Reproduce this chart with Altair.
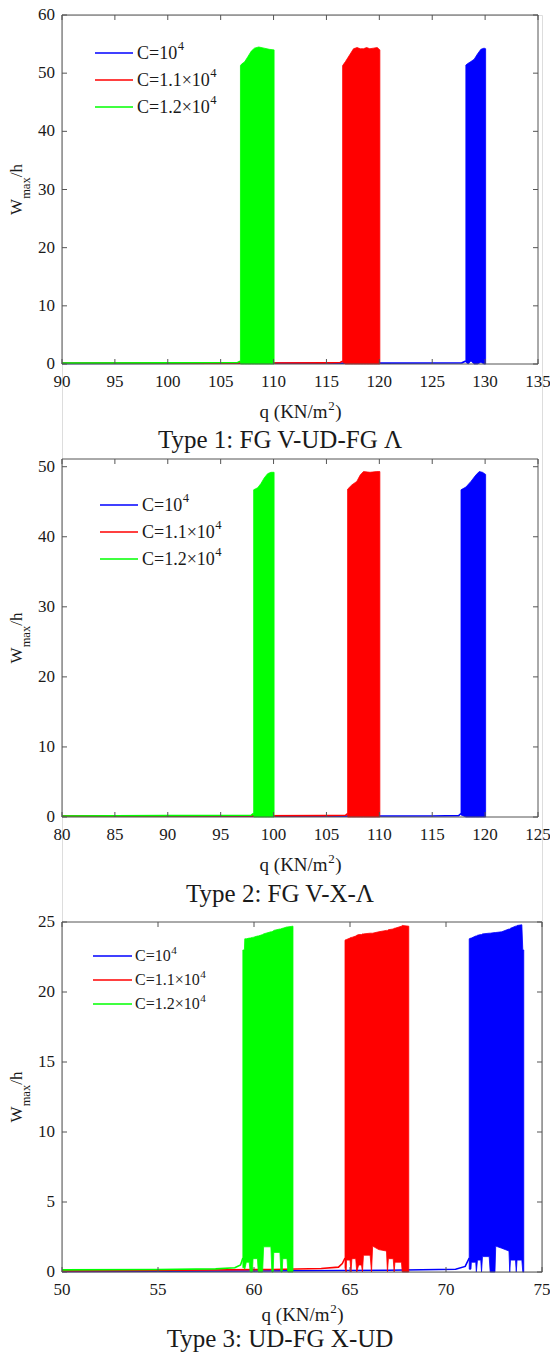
import altair as alt
import pandas as pd

FONT = "Liberation Serif"
TXT = "#1a1a1a"
AX = "#555555"

SERIES_LABELS = ["C=10", "C=1.1\u00d710", "C=1.2\u00d710"]
SERIES_COLORS = ["#0000ff", "#ff0000", "#00ff00"]

# ---------------- Panel 1 : Type 1 ----------------
p1_xticks = [90, 95, 100, 105, 110, 115, 120, 125, 130, 135]
p1_yticks = [0, 10, 20, 30, 40, 50, 60]

p1_blue_base_q = [90, 105, 120, 127.8, 128.18]
p1_blue_base_w = [0.1, 0.12, 0.15, 0.2, 0.5]
p1_blue_band_q = [128.18, 128.4, 128.66, 128.97, 129.28, 129.6, 129.9, 130.05]
p1_blue_band_top = [51.4, 51.7, 52.0, 52.4, 53.3, 54.1, 54.3, 54.2]
p1_blue_band_low = [0.3, 0.0, 0.5, 0.0, 0.0, 0.3, 0.0, 0.0]

p1_red_base_q = [90, 105, 115, 116.3, 116.53]
p1_red_base_w = [0.12, 0.15, 0.2, 0.25, 0.5]
p1_red_band_q = [116.53, 116.8, 117.25, 117.56, 117.9, 118.2, 118.5, 118.8, 119.1, 119.45, 119.8, 120.05]
p1_red_band_top = [51.3, 52.0, 53.3, 54.2, 54.4, 54.2, 54.2, 54.4, 54.2, 54.3, 54.4, 54.0]
p1_red_band_low = [0.3, 0.0, 0.0, 0.0, 0.0, 0.0, 0.0, 0.0, 0.0, 0.0, 0.0, 0.0]

p1_green_base_q = [90, 100, 106.6, 106.87]
p1_green_base_w = [0.15, 0.2, 0.25, 0.5]
p1_green_band_q = [106.87, 107.0, 107.25, 107.56, 107.9, 108.2, 108.6, 109.1, 109.6, 110.05]
p1_green_band_top = [51.3, 51.6, 51.9, 52.8, 53.8, 54.3, 54.5, 54.3, 54.1, 54.0]
p1_green_band_low = [0.0, 0.0, 0.0, 0.0, 0.0, 0.0, 0.0, 0.0, 0.0, 0.0]

# ---------------- Panel 2 : Type 2 ----------------
p2_xticks = [80, 85, 90, 95, 100, 105, 110, 115, 120, 125]
p2_yticks = [0, 10, 20, 30, 40, 50]

p2_blue_base_q = [80, 100, 115, 117.5, 117.72]
p2_blue_base_w = [0.1, 0.12, 0.15, 0.2, 0.5]
p2_blue_band_q = [117.72, 118.19, 118.66, 119.12, 119.44, 119.75, 120.05]
p2_blue_band_top = [46.7, 47.1, 47.9, 48.8, 49.3, 49.2, 48.9]
p2_blue_band_low = [0.3, 0.0, 0.0, 0.0, 0.0, 0.0, 0.0]

p2_red_base_q = [80, 95, 105, 106.8, 107.0]
p2_red_base_w = [0.12, 0.15, 0.2, 0.25, 0.5]
p2_red_band_q = [107.0, 107.4, 107.87, 108.19, 108.5, 109.12, 109.75, 110.05]
p2_red_band_top = [46.8, 47.4, 47.9, 48.8, 49.3, 49.2, 49.3, 49.3]
p2_red_band_low = [0.0, 0.0, 0.0, 0.0, 0.0, 0.0, 0.0, 0.0]

p2_green_base_q = [80, 90, 97.9, 98.12]
p2_green_base_w = [0.15, 0.2, 0.25, 0.5]
p2_green_band_q = [98.12, 98.5, 98.81, 99.12, 99.44, 99.75, 100.05]
p2_green_band_top = [46.7, 47.0, 47.6, 48.4, 49.0, 49.2, 49.2]
p2_green_band_low = [0.0, 0.0, 0.0, 0.0, 0.0, 0.0, 0.0]

# ---------------- Panel 3 : Type 3 ----------------
p3_xticks = [50, 55, 60, 65, 70, 75]
p3_yticks = [0, 5, 10, 15, 20, 25]

p3_blue_base_q = [50, 60, 67, 70.5, 71.0, 71.21]
p3_blue_base_w = [0.04, 0.07, 0.12, 0.2, 0.4, 1.0]
p3_blue_band_q = [71.21, 71.30, 71.32, 71.55, 71.58, 71.64, 71.81, 71.85, 71.90, 72.25, 72.30, 72.55,
                  72.59, 72.90, 73.28, 73.32, 73.36, 73.62, 73.66, 73.70, 73.95, 74.00, 74.05]
p3_blue_band_top = [23.8, 23.85, 23.85, 24.0, 24.0, 24.05, 24.1, 24.1, 24.15, 24.2, 24.2, 24.25,
                    24.25, 24.3, 24.5, 24.5, 24.55, 24.7, 24.7, 24.75, 24.8, 23.0, 23.0]
p3_blue_band_low = [0.2, 0.2, 0.7, 0.7, 0.0, 0.85, 0.85, 0.0, 1.1, 1.1, 0.0, 0.0,
                    1.85, 1.7, 1.5, 0.0, 0.85, 0.85, 0.0, 0.85, 0.85, 0.0, 0.0]

p3_red_base_q = [50, 56, 61, 63.5, 64.4, 64.6, 64.74]
p3_red_base_w = [0.08, 0.12, 0.18, 0.25, 0.35, 0.6, 1.0]
p3_red_band_q = [64.74, 64.80, 64.82, 65.0, 65.05, 65.10, 65.30, 65.35, 65.45, 65.60, 65.65, 65.70, 66.05,
                 66.12, 66.18, 66.50, 66.90, 66.95, 67.00, 67.25, 67.30, 67.34, 67.68, 67.72, 68.06]
p3_red_band_top = [23.7, 23.75, 23.75, 23.85, 23.9, 23.9, 24.0, 24.05, 24.1, 24.1, 24.15, 24.15, 24.2,
                   24.2, 24.2, 24.3, 24.4, 24.4, 24.45, 24.5, 24.55, 24.55, 24.7, 24.75, 24.7]
p3_red_band_low = [0.3, 0.0, 0.85, 0.85, 0.0, 0.95, 0.95, 0.0, 0.5, 0.5, 0.0, 1.2, 1.2,
                   0.0, 1.85, 1.6, 1.5, 0.0, 0.95, 0.95, 0.0, 0.7, 0.7, 0.0, 0.0]

p3_green_base_q = [50, 55, 58, 59.0, 59.3, 59.42]
p3_green_base_w = [0.15, 0.18, 0.22, 0.3, 0.5, 1.0]
p3_green_band_q = [59.42, 59.50, 59.52, 59.60, 59.75, 59.80, 59.92, 59.95, 60.18, 60.22, 60.45, 60.50,
                   60.88, 60.93, 61.00, 61.03, 61.35, 61.40, 61.47, 61.50, 61.72, 61.76, 62.03]
p3_green_band_top = [23.0, 23.0, 23.8, 23.8, 23.85, 23.85, 23.9, 23.9, 24.0, 24.0, 24.1, 24.15,
                     24.3, 24.3, 24.35, 24.4, 24.5, 24.5, 24.55, 24.55, 24.65, 24.65, 24.7]
p3_green_band_low = [0.3, 0.3, 0.2, 0.7, 0.7, 0.0, 0.0, 0.95, 0.95, 0.0, 0.0, 1.8,
                     1.8, 0.0, 0.0, 1.4, 1.4, 0.0, 0.0, 0.95, 0.95, 0.0, 0.0]

X_TITLE_PARTS = ["q (KN/m", "2", ")"]
CAPTIONS = ["Type 1: FG V-UD-FG \u039b", "Type 2: FG V-X-\u039b", "Type 3: UD-FG X-UD"]

ONE = pd.DataFrame({"k": [0]})

# approximate Times advance widths (em) for placing raised / lowered pieces
ADV = {"C": 0.667, "=": 0.564, "1": 0.5, "0": 0.5, ".": 0.25, "2": 0.5, "\u00d7": 0.564,
       "q": 0.5, " ": 0.25, "(": 0.333, ")": 0.333, "K": 0.722, "N": 0.722, "/": 0.278, "m": 0.778}


def tw(s, size):
    return sum(ADV.get(ch, 0.5) for ch in s) * size


def txt(text, x, y, size, align="left", baseline="alphabetic", angle=0, color=TXT):
    kw = dict(text=text, font=FONT, fontSize=size, align=align, baseline=baseline, color=color)
    if angle:
        kw["angle"] = angle
    return alt.Chart(ONE).mark_text(**kw).encode(x=alt.value(x), y=alt.value(y))


def panel_layers(spec):
    W, top, bot = spec["w"], spec["top"], spec["bot"]
    xs = alt.Scale(domain=spec["xdom"], range=[0, W], nice=False, zero=False)
    ys = alt.Scale(domain=spec["ydom"], range=[bot, top], nice=False, zero=False)
    X = lambda f: alt.X(f, scale=xs, axis=None)
    Y = lambda f: alt.Y(f, scale=ys, axis=None)
    layers = []
    for color, bq, bw, aq, at, al in spec["series"]:
        dfb = pd.DataFrame({"q": bq, "w": bw})
        layers.append(alt.Chart(dfb).mark_line(color=color, strokeWidth=1.6).encode(
            x=X("q:Q"), y=Y("w:Q")))
        dfa = pd.DataFrame({"q": aq, "top": at, "low": al})
        layers.append(alt.Chart(dfa).mark_area(color=color, opacity=1, stroke=color, strokeWidth=0.8).encode(
            x=X("q:Q"), y=Y("top:Q"), y2="low:Q"))
    # frame
    layers.append(alt.Chart(ONE).mark_rect(fillOpacity=0, stroke=AX, strokeWidth=1).encode(
        x=alt.value(0), x2=alt.value(W), y=alt.value(top), y2=alt.value(bot)))
    # inward ticks
    dfx = pd.DataFrame({"t": spec["xticks"]})
    dfy = pd.DataFrame({"t": spec["yticks"]})
    layers.append(alt.Chart(dfx).mark_rule(color=AX, strokeWidth=1).encode(
        x=X("t:Q"), y=alt.value(bot), y2=alt.value(bot - 5)))
    layers.append(alt.Chart(dfx).mark_rule(color=AX, strokeWidth=1).encode(
        x=X("t:Q"), y=alt.value(top), y2=alt.value(top + 5)))
    layers.append(alt.Chart(dfy).mark_rule(color=AX, strokeWidth=1).encode(
        y=Y("t:Q"), x=alt.value(0), x2=alt.value(5)))
    layers.append(alt.Chart(dfy).mark_rule(color=AX, strokeWidth=1).encode(
        y=Y("t:Q"), x=alt.value(W), x2=alt.value(W - 5)))
    # tick labels
    layers.append(alt.Chart(dfx).mark_text(font=FONT, fontSize=17, color=TXT, align="center",
                                           baseline="middle").encode(
        x=X("t:Q"), y=alt.value(bot + 18), text="t:Q"))
    layers.append(alt.Chart(dfy).mark_text(font=FONT, fontSize=17, color=TXT, align="right",
                                           baseline="middle").encode(
        y=Y("t:Q"), x=alt.value(-7), text="t:Q"))
    # legend
    lx0, lx1, tx, lys, fs = spec["legend"]
    for lab, col, ly in zip(SERIES_LABELS, SERIES_COLORS, lys):
        yy = top + ly
        layers.append(alt.Chart(ONE).mark_rule(color=col, strokeWidth=1.6).encode(
            x=alt.value(lx0), x2=alt.value(lx1), y=alt.value(yy)))
        layers.append(txt(lab, tx, yy + fs * 0.33, fs))
        layers.append(txt("4", tx + tw(lab, fs) + 0.5, yy - fs * 0.15, fs * 0.7))
    # y title  W_max/h (rotated)
    cy = (top + bot) / 2
    wx = -40
    s1, s2 = 17, 12.5
    L = 0.944 * s1 + 1.722 * s2 + 0.778 * s1
    y0 = cy + L / 2
    layers.append(txt("W", wx, y0, s1, angle=270))
    layers.append(txt("max", wx + 8, y0 - 0.944 * s1, s2, angle=270))
    layers.append(txt("/h", wx, y0 - 0.944 * s1 - 1.722 * s2, s1, angle=270))
    # x title q (KN/m^2) with raised 2
    f1, f2 = 19, 13
    tot = tw(X_TITLE_PARTS[0], f1) + tw("2", f2) + tw(")", f1)
    xt0 = W / 2 - tot / 2
    yb = bot + spec["xt_dy"]
    layers.append(txt(X_TITLE_PARTS[0], xt0, yb, f1))
    layers.append(txt(X_TITLE_PARTS[1], xt0 + tw(X_TITLE_PARTS[0], f1) + 0.5, yb - 8, f2))
    layers.append(txt(X_TITLE_PARTS[2], xt0 + tw(X_TITLE_PARTS[0], f1) + tw("2", f2) + 1, yb, f1))
    # caption (centred on the page)
    layers.append(txt(spec["caption"], 218, bot + spec["cap_dy"], 25, align="center", baseline="middle"))
    return layers


# panel placement inside the single view (pixels from the top of the first plot box)
spec1 = dict(w=476, top=0, bot=349, xdom=[90, 135], ydom=[0, 60], xticks=p1_xticks, yticks=p1_yticks,
             caption=CAPTIONS[0], cap_dy=76, xt_dy=54, legend=(33, 71, 75, [38, 65, 92], 18),
             series=[(SERIES_COLORS[0], p1_blue_base_q, p1_blue_base_w, p1_blue_band_q, p1_blue_band_top, p1_blue_band_low),
                     (SERIES_COLORS[1], p1_red_base_q, p1_red_base_w, p1_red_band_q, p1_red_band_top, p1_red_band_low),
                     (SERIES_COLORS[2], p1_green_base_q, p1_green_base_w, p1_green_band_q, p1_green_band_top, p1_green_band_low)])
spec2 = dict(w=476, top=444, bot=802, xdom=[80, 125], ydom=[0, 51.1], xticks=p2_xticks, yticks=p2_yticks,
             caption=CAPTIONS[1], cap_dy=77, xt_dy=54, legend=(38, 76, 80, [46, 73, 100], 18),
             series=[(SERIES_COLORS[0], p2_blue_base_q, p2_blue_base_w, p2_blue_band_q, p2_blue_band_top, p2_blue_band_low),
                     (SERIES_COLORS[1], p2_red_base_q, p2_red_base_w, p2_red_band_q, p2_red_band_top, p2_red_band_low),
                     (SERIES_COLORS[2], p2_green_base_q, p2_green_base_w, p2_green_band_q, p2_green_band_top, p2_green_band_low)])
spec3 = dict(w=480, top=907, bot=1257, xdom=[50, 75], ydom=[0, 25], xticks=p3_xticks, yticks=p3_yticks,
             caption=CAPTIONS[2], cap_dy=67, xt_dy=49, legend=(31, 70, 73, [34, 58, 82], 16),
             series=[(SERIES_COLORS[0], p3_blue_base_q, p3_blue_base_w, p3_blue_band_q, p3_blue_band_top, p3_blue_band_low),
                     (SERIES_COLORS[1], p3_red_base_q, p3_red_base_w, p3_red_band_q, p3_red_band_top, p3_red_band_low),
                     (SERIES_COLORS[2], p3_green_base_q, p3_green_base_w, p3_green_band_q, p3_green_band_top, p3_green_band_low)])

all_layers = panel_layers(spec1) + panel_layers(spec2) + panel_layers(spec3)

chart = alt.layer(*all_layers).resolve_scale(x="independent", y="independent").properties(
    width=480, height=1257,
    autosize=alt.AutoSizeParams(type="none"),
    padding={"left": 54, "top": 7, "right": 8, "bottom": 82}
).configure_view(stroke="transparent").configure(background="white")

chart.save("out.html", embed_options={"renderer": "svg", "actions": False})
